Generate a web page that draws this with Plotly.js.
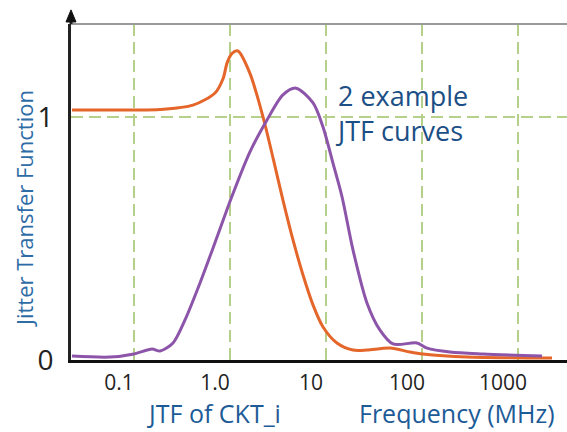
<!DOCTYPE html>
<html>
<head>
<meta charset="utf-8">
<script src="https://cdn.plot.ly/plotly-3.0.1.min.js"></script>
<style>html,body{margin:0;padding:0;background:#fff;}#chart{width:567px;height:432px;}</style>
</head>
<body>
<div id="chart"></div>
<script>
// Frequency (MHz) and JTF values
const freqCktI = [0.0226, 0.0443, 0.1, 0.187, 0.412, 0.698, 0.85, 0.931, 1.05, 1.21, 1.61, 2.21, 2.81, 3.56, 4.53, 5.76, 7.33, 9.31, 13.0, 19.1, 26.7, 46.4, 75.0, 102, 294, 2260];
const jtfCktI  = [1.029, 1.029, 1.029, 1.031, 1.049, 1.099, 1.16, 1.222, 1.262, 1.272, 1.181, 1.0, 0.831, 0.658, 0.494, 0.350, 0.226, 0.136, 0.070, 0.041, 0.041, 0.049, 0.033, 0.025, 0.012, 0.008];

const freqOther = [0.0226, 0.0562, 0.1, 0.154, 0.187, 0.255, 0.340, 0.487, 0.733, 1.05, 1.61, 2.43, 3.56, 4.87, 7.33, 9.31, 11.8, 14.7, 19.1, 26.7, 36.5, 49.9, 88.7, 113, 196, 432, 1778];
const jtfOther  = [0.016, 0.012, 0.025, 0.045, 0.037, 0.070, 0.165, 0.317, 0.506, 0.675, 0.856, 0.988, 1.091, 1.119, 1.058, 0.959, 0.811, 0.671, 0.453, 0.235, 0.123, 0.066, 0.070, 0.049, 0.033, 0.025, 0.016];

const xTickVals = [0.1, 1, 10, 100, 1000];
const xTickText = ['0.1', '1.0', '10', '100', '1000'];
const yTickVals = [0, 1];
const yTickText = ['0', '1'];

const FONT = '"Open Sans", "Noto Sans", sans-serif';
const gridColor = '#b5d08a';

const traces = [
  {x: freqCktI, y: jtfCktI, type: 'scatter', mode: 'lines', name: 'JTF of CKT_i',
   line: {color: '#e4662a', width: 3, shape: 'spline', smoothing: 0.8}},
  {x: freqOther, y: jtfOther, type: 'scatter', mode: 'lines', name: 'JTF other',
   line: {color: '#8d55a9', width: 3, shape: 'spline', smoothing: 0.8}}
];

const layout = {
  width: 567, height: 432,
  margin: {l: 71, r: 0, t: 24, b: 72},
  paper_bgcolor: '#fff', plot_bgcolor: '#fff',
  showlegend: false,
  font: {family: FONT},
  xaxis: {
    type: 'log', range: [-1.656, 3.51],
    tickvals: xTickVals, ticktext: xTickText,
    showgrid: true, gridcolor: gridColor, gridwidth: 2, griddash: '12px,6px',
    showline: true, linecolor: '#111', linewidth: 3,
    zeroline: false, ticks: '',
    ticklabelstandoff: 2, ticklabelshift: -15,
    tickfont: {size: 21, color: '#222', family: FONT},
    fixedrange: true
  },
  yaxis: {
    range: [0, 1.383],
    tickvals: yTickVals, ticktext: yTickText,
    showgrid: true, gridcolor: gridColor, gridwidth: 2, griddash: '12px,6px',
    showline: true, linecolor: '#222', linewidth: 3,
    zeroline: false, ticks: '',
    ticklabelstandoff: 9,
    tickfont: {size: 28, color: '#222', family: FONT},
    fixedrange: true
  },
  shapes: [
    {type: 'line', xref: 'paper', yref: 'paper', x0: 0, x1: 1, y0: 1, y1: 1,
     line: {color: '#9a9a9a', width: 2}},
    {type: 'line', xref: 'paper', yref: 'paper', x0: 0, x1: 0, y0: 1, y1: 1.01,
     line: {color: '#222', width: 3}},
    {type: 'path', xref: 'paper', yref: 'paper',
     path: 'M -0.0101 1.006 L 0.0101 1.006 L 0 1.042 Z',
     fillcolor: '#111', line: {color: '#111', width: 1}}
  ],
  annotations: [
    {text: 'Jitter Transfer Function', xref: 'paper', yref: 'paper',
     x: (24 - 71) / 496, y: (360 - 209) / 336, textangle: -90, showarrow: false,
     xanchor: 'center', yanchor: 'middle',
     font: {size: 22, color: '#2e6ca6', family: FONT}},
    {text: 'JTF of CKT_i', xref: 'paper', yref: 'paper',
     x: (145 - 71) / 496, y: -(432 - 360) / 336, showarrow: false,
     xanchor: 'left', yanchor: 'bottom',
     font: {size: 25, color: '#1d5b97', family: FONT}},
    {text: 'Frequency (MHz)', xref: 'paper', yref: 'paper',
     x: (357 - 71) / 496, y: -(432 - 360) / 336, showarrow: false,
     xanchor: 'left', yanchor: 'bottom',
     font: {size: 25, color: '#1d5b97', family: FONT}},
    {text: '2 example<br>JTF curves', xref: 'paper', yref: 'paper',
     x: (333 - 71) / 496, y: (360 - 113) / 336, showarrow: false,
     xanchor: 'left', yanchor: 'middle', align: 'left',
     font: {size: 27, color: '#1c4f86', family: FONT}}
  ]
};

Plotly.newPlot('chart', traces, layout, {displayModeBar: false, staticPlot: true});
</script>
</body>
</html>
